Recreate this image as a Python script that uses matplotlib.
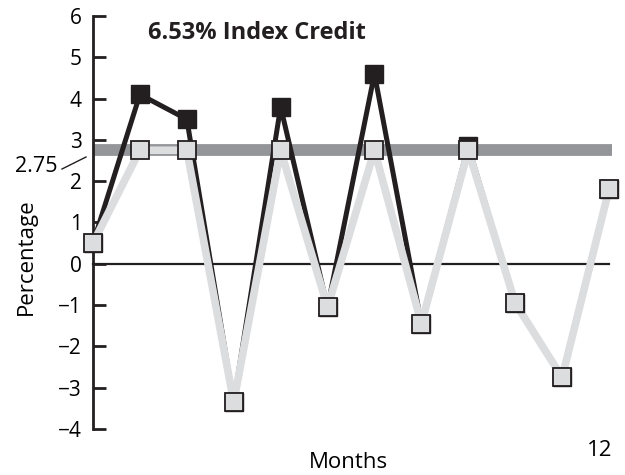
import matplotlib
matplotlib.use("Agg")
import matplotlib.pyplot as plt

plt.rcParams['font.family'] = ['Open Sans', 'DejaVu Sans']

months = list(range(1, 13))
# monthly index change, uncapped
index_change = [0.5, 4.1, 3.5, -3.35, 3.8, -1.05, 4.6, -1.45, 2.85, -0.95, -2.75, 1.8]
# monthly change after the 2.75% cap
capped_change = [0.5, 2.75, 2.75, -3.35, 2.75, -1.05, 2.75, -1.45, 2.75, -0.95, -2.75, 1.8]
cap = 2.75
yticks = [-4, -3, -2, -1, 0, 1, 2, 3, 4, 5, 6]

dark = '#231f20'
light = '#dcdddf'
band = '#939598'

fig = plt.figure(figsize=(6.25, 4.75), dpi=100)
ax = fig.add_axes([93 / 625, 46 / 475, 516 / 625, 413 / 475])
ax.set_xlim(1, 12)
ax.set_ylim(-4, 6)

# cap band and zero line
ax.plot([1, 12.06], [cap, cap], color=band, lw=8.5, solid_capstyle='butt', zorder=1, clip_on=False)
ax.plot([1, 12], [0, 0], color=dark, lw=1.6, zorder=1, clip_on=False)

ax.plot(months, index_change, color=dark, lw=3.6, zorder=2, clip_on=False)
ax.plot(months, capped_change, color=light, lw=5.5, zorder=3, clip_on=False)
ax.plot(months, index_change, ls='none', marker='s', ms=13, mfc=dark, mec=dark, zorder=4, clip_on=False)
ax.plot(months, capped_change, ls='none', marker='s', ms=13, mfc=light, mec=dark, mew=1.3, zorder=5, clip_on=False)

for s in ['top', 'right', 'bottom']:
    ax.spines[s].set_visible(False)
ax.spines['left'].set_linewidth(2)
ax.spines['left'].set_color(dark)
ax.set_xticks([])
ax.set_yticks(yticks)
ax.tick_params(axis='y', direction='in', length=9, width=2, color=dark, pad=8, labelsize=15)

# cap label with a short slanted leader
fig.text(58 / 625, 1 - 167 / 475, '2.75', fontsize=15.5, ha='right', va='center')
fig.add_artist(plt.Line2D([62 / 625, 86 / 625], [1 - 169 / 475, 1 - 157 / 475],
                          color=dark, lw=1, transform=fig.transFigure))

fig.text(148 / 625, 1 - 33 / 475, '6.53% Index Credit', fontsize=17, fontweight='bold',
         color=dark, ha='left', va='center')
fig.text(26 / 625, 1 - 257 / 475, 'Percentage', fontsize=16, rotation=90, ha='center', va='center')
fig.text(348 / 625, 1 - 462 / 475, 'Months', fontsize=16, ha='center', va='center')
fig.text(600 / 625, 1 - 450 / 475, '12', fontsize=16, ha='center', va='center')

fig.savefig('out.png', dpi=100)
